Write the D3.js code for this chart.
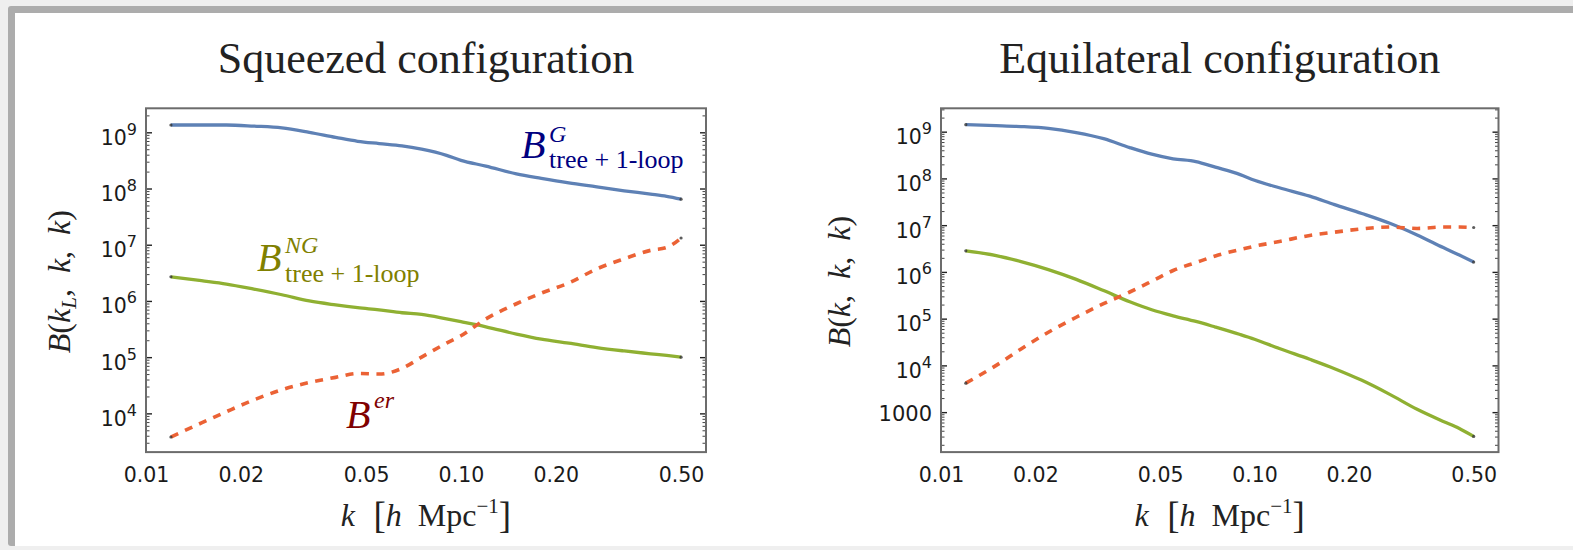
<!DOCTYPE html>
<html>
<head>
<meta charset="UTF-8">
<title>Bispectrum: squeezed and equilateral</title>
<script src="https://d3js.org/d3.v7.min.js"></script>
<style>
  body { margin: 0; background: #efefef; }
  svg { display: block; }
  .tick text { font-family: "DejaVu Sans", Verdana, sans-serif; fill: #1a1a1a; }
  .serif { font-family: "Liberation Serif", "Times New Roman", serif; }
</style>
</head>
<body>
<svg id="fig" width="1573" height="550"></svg>
<script>
// k values shared by all curves (h/Mpc)
const kGrid = [0.012, 0.015, 0.018, 0.022, 0.027, 0.033, 0.04, 0.047, 0.055, 0.065, 0.075,
               0.09, 0.1, 0.12, 0.15, 0.18, 0.22, 0.27, 0.33, 0.4, 0.45, 0.5];

// log10 B
const sqzGauss = [9.13, 9.13, 9.13, 9.11, 9.08, 9.00, 8.91, 8.84, 8.80, 8.76, 8.70,
                  8.59, 8.50, 8.40, 8.26, 8.18, 8.10, 8.03, 7.96, 7.90, 7.86, 7.81];
const sqzNonGauss = [6.43, 6.36, 6.30, 6.21, 6.11, 6.00, 5.93, 5.88, 5.84, 5.79, 5.76,
                     5.68, 5.63, 5.54, 5.41, 5.32, 5.25, 5.17, 5.11, 5.06, 5.03, 5.00];
const sqzErr = [3.58, 3.83, 4.03, 4.24, 4.42, 4.55, 4.64, 4.71, 4.70, 4.80, 5.00,
                5.25, 5.38, 5.68, 5.95, 6.14, 6.32, 6.57, 6.75, 6.90, 6.95, 7.12];

const eqGauss = [9.15, 9.13, 9.11, 9.07, 8.98, 8.85, 8.66, 8.52, 8.42, 8.36, 8.24,
                 8.08, 7.96, 7.80, 7.62, 7.44, 7.25, 7.04, 6.79, 6.52, 6.36, 6.21];
const eqNonGauss = [6.45, 6.35, 6.22, 6.05, 5.84, 5.60, 5.36, 5.19, 5.06, 4.94, 4.82,
                    4.66, 4.56, 4.36, 4.13, 3.93, 3.68, 3.38, 3.06, 2.80, 2.65, 2.48];
const eqErr = [3.62, 4.00, 4.35, 4.71, 5.03, 5.32, 5.57, 5.80, 6.03, 6.20, 6.34,
               6.48, 6.55, 6.65, 6.78, 6.85, 6.92, 6.96, 6.93, 6.96, 6.96, 6.95];

const xTickVals = [0.01, 0.02, 0.05, 0.1, 0.2, 0.5];
const xTickLabels = ["0.01", "0.02", "0.05", "0.10", "0.20", "0.50"];
const sqzYExp = [4, 5, 6, 7, 8, 9];
const eqYExp = [3, 4, 5, 6, 7, 8, 9];

const colors = { gauss: "#5E81B5", nonGauss: "#8FB032", err: "#EB6235" };

const svg = d3.select("#fig");

// page frame
svg.append("rect").attr("x", 8).attr("y", 6).attr("width", 1600).attr("height", 540)
  .attr("rx", 3).attr("fill", "#acacac");
svg.append("rect").attr("x", 15).attr("y", 13).attr("width", 1600).attr("height", 533)
  .attr("fill", "#fff");

const plotTop = 108.3, plotH = 343.8;

const panels = [
  { title: "Squeezed configuration", left: 146, width: 560, yDom: [3.311, 9.427],
    yExp: sqzYExp, series: [sqzGauss, sqzNonGauss, sqzErr], yLabelX: 70, sub: "L" },
  { title: "Equilateral configuration", left: 941, width: 557.5, yDom: [2.145, 9.5],
    yExp: eqYExp, series: [eqGauss, eqNonGauss, eqErr], yLabelX: 850, sub: null }
];

panels.forEach((p, pi) => {
  const g = svg.append("g").attr("transform", `translate(${p.left},${plotTop})`);
  const x = d3.scaleLog().domain([0.01, 0.6]).range([0, p.width]);
  const y = d3.scaleLog().domain([10 ** p.yDom[0], 10 ** p.yDom[1]]).range([plotH, 0]);
  const cx = p.left + p.width / 2;

  // title
  svg.append("text").attr("class", "serif")
    .attr("x", cx).attr("y", 72.6).attr("text-anchor", "middle")
    .attr("font-size", 44).attr("fill", "#222").text(p.title);

  // minor ticks
  const minor = [];
  for (let d = Math.floor(p.yDom[0]); d <= Math.ceil(p.yDom[1]); d++) {
    for (let m = 2; m <= 9; m++) {
      const v = m * 10 ** d;
      if (v > y.domain()[0] && v < y.domain()[1]) minor.push(v);
    }
  }
  const majors = p.yExp.map(e => 10 ** e);

  g.append("g").call(d3.axisLeft(y).tickValues(minor).tickSize(-3.5).tickFormat(""))
    .call(a => a.select(".domain").remove())
    .selectAll("line").attr("stroke", "#444");
  g.append("g").attr("transform", `translate(${p.width},0)`)
    .call(d3.axisRight(y).tickValues(minor).tickSize(-3.5).tickFormat(""))
    .call(a => a.select(".domain").remove())
    .selectAll("line").attr("stroke", "#444");
  g.append("g").attr("transform", `translate(${p.width},0)`)
    .call(d3.axisRight(y).tickValues(majors).tickSize(-6).tickFormat(""))
    .call(a => a.select(".domain").remove())
    .selectAll("line").attr("stroke", "#222").attr("stroke-width", 1.4);

  const yAx = g.append("g")
    .call(d3.axisLeft(y).tickValues(majors).tickSize(-6).tickPadding(9))
    .call(a => a.select(".domain").remove());
  yAx.selectAll("line").attr("stroke", "#222").attr("stroke-width", 1.4);
  yAx.selectAll("text").each(function(d) {
    const t = d3.select(this).text(null).attr("dy", null).attr("y", 12);
    const e = Math.round(Math.log10(d));
    if (e === 3) {
      t.attr("y", 8).attr("font-size", 21).text("1000");
    } else {
      t.append("tspan").attr("font-size", 20.5).text("10");
      t.append("tspan").attr("font-size", 16).attr("dy", -10).text(e);
    }
  });

  // x axis labels
  g.append("g").attr("transform", `translate(0,${plotH})`)
    .call(d3.axisBottom(x).tickValues(xTickVals).tickSize(0).tickPadding(0)
      .tickFormat((d, i) => xTickLabels[i]))
    .call(a => a.select(".domain").remove())
    .selectAll("text").attr("dy", null).attr("y", 30).attr("font-size", 20.5);

  // curves
  const line = d3.line().x(d => x(d.k)).y(d => y(10 ** d.v)).curve(d3.curveMonotoneX);
  const styles = [
    { c: colors.gauss, dash: null },
    { c: colors.nonGauss, dash: null },
    { c: colors.err, dash: "8,7.5" }
  ];
  p.series.forEach((vals, si) => {
    const pts = kGrid.map((k, i) => ({ k, v: vals[i] }));
    g.append("path").datum(pts).attr("d", line)
      .attr("fill", "none").attr("stroke", styles[si].c)
      .attr("stroke-width", si === 2 ? 3.6 : 3.3).attr("stroke-dasharray", styles[si].dash);
    g.selectAll(null).data([pts[0], pts[pts.length - 1]]).enter().append("circle")
      .attr("cx", d => x(d.k)).attr("cy", d => y(10 ** d.v)).attr("r", 1.6)
      .attr("fill", "#333").attr("opacity", 0.8);
  });

  // frame
  g.append("rect").attr("width", p.width).attr("height", plotH)
    .attr("fill", "none").attr("stroke", "#6c6c6c").attr("stroke-width", 2);

  // axis titles
  const xl = svg.append("text").attr("class", "serif")
    .attr("x", cx).attr("y", 526).attr("text-anchor", "middle")
    .attr("font-size", 32).attr("fill", "#222");
  xl.append("tspan").attr("font-style", "italic").text("k");
  xl.append("tspan").attr("font-size", 37).attr("dy", 2).text("\u2002[");
  xl.append("tspan").attr("font-style", "italic").attr("dy", -2).text("h");
  xl.append("tspan").text("\u2002Mpc");
  xl.append("tspan").attr("font-size", 21).attr("dy", -13).text("\u22121");
  xl.append("tspan").attr("font-size", 37).attr("dy", 15).text("]");

  const yl = svg.append("text").attr("class", "serif")
    .attr("transform", `translate(${p.yLabelX},281.6) rotate(-90)`)
    .attr("text-anchor", "middle").attr("font-size", 32).attr("fill", "#222");
  yl.append("tspan").attr("font-style", "italic").text("B");
  yl.append("tspan").text("(");
  yl.append("tspan").attr("font-style", "italic").text("k");
  if (p.sub) {
    yl.append("tspan").attr("font-style", "italic").attr("font-size", 21).attr("dy", 6).text(p.sub);
    yl.append("tspan").attr("dy", -6).text(",\u2002");
  } else {
    yl.append("tspan").text(",\u2002");
  }
  yl.append("tspan").attr("font-style", "italic").text("k");
  yl.append("tspan").text(",\u2002");
  yl.append("tspan").attr("font-style", "italic").text("k");
  yl.append("tspan").text(")");
});

// curve annotations (squeezed panel)
function annot(bx, by, sup, supY, sub, subY, color) {
  svg.append("text").attr("class", "serif").attr("x", bx).attr("y", by)
    .attr("font-size", 40).attr("font-style", "italic").attr("fill", color).text("B");
  svg.append("text").attr("class", "serif").attr("x", bx + 28).attr("y", supY)
    .attr("font-size", 24).attr("font-style", "italic").attr("fill", color).text(sup);
  if (sub) {
    svg.append("text").attr("class", "serif").attr("x", bx + 28).attr("y", subY)
      .attr("font-size", 26).attr("fill", color).text(sub);
  }
}
annot(521, 158.3, "G", 141.5, "tree + 1-loop", 168.3, "#000080");
annot(257, 270.7, "NG", 253.3, "tree + 1-loop", 281.7, "#808000");
annot(346, 428.3, "er", 408.3, null, 0, "#800000");
</script>
</body>
</html>
